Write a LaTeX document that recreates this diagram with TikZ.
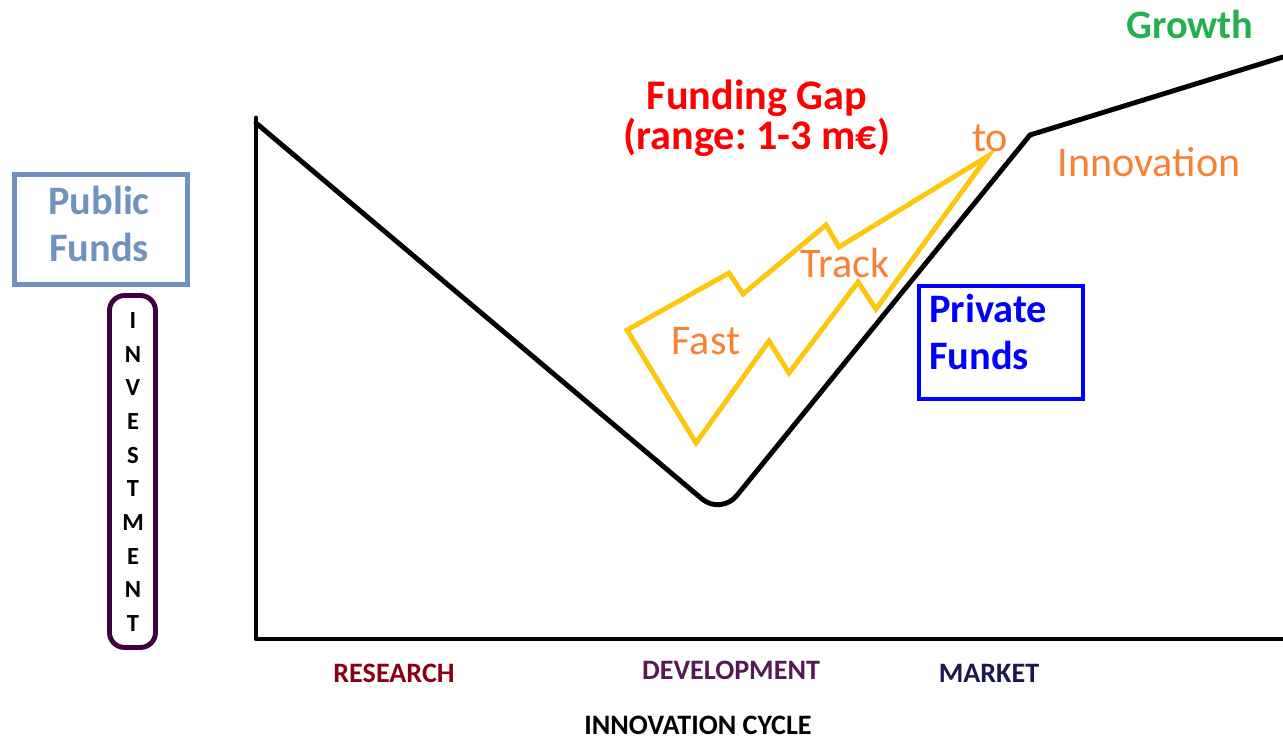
\documentclass[tikz,border=0pt]{standalone}
\usepackage{fontspec}
\setmainfont{Carlito}
\frenchspacing
\definecolor{pubblue}{RGB}{112,146,190}
\definecolor{invpurple}{RGB}{64,0,64}
\definecolor{boltgold}{RGB}{255,198,14}
\definecolor{trackorange}{RGB}{247,129,52}
\definecolor{growgreen}{RGB}{34,177,76}
\definecolor{resred}{RGB}{136,0,21}
\definecolor{devpurple}{RGB}{85,25,85}
\definecolor{marknavy}{RGB}{25,25,80}
\tikzstyle{curve}=[draw=black,line width=2.8pt,line join=round,line cap=round]
\tikzstyle{bolt}=[draw=boltgold,line width=2.8pt,line join=miter]
\tikzstyle{fundbox}=[rectangle,line width=2.8pt,inner sep=0pt]
\tikzstyle{bigtext}=[font=\bfseries\fontsize{23}{27}\selectfont]
\tikzstyle{tracktext}=[text=trackorange,font=\fontsize{24}{28}\selectfont]
\tikzstyle{stagetext}=[font=\bfseries\fontsize{16}{19}\selectfont]
\tikzstyle{letter}=[font=\bfseries\fontsize{14}{16}\selectfont,inner sep=0pt]

\begin{document}
\begin{tikzpicture}[x=0.02cm,y=-0.02cm]
    \useasboundingbox (0,0) rectangle (1283,739);
    % axes and curve
    \coordinate (top)    at (256, 118);
    \coordinate (origin) at (256, 639);
    \coordinate (xend)   at (1283,639);
    \coordinate (c1)     at (256, 123);
    \coordinate (c2)     at (721, 515);
    \coordinate (c3)     at (1030,135);
    \coordinate (c4)     at (1283, 57);
    \draw[curve] (top) -- (origin) -- (xend);
    \draw[curve,rounded corners=0.5cm] (c1) -- (c2) -- (c3);
    \draw[curve] (c3) -- (c4);
    % lightning bolt
    \coordinate (b1)  at (627,330);
    \coordinate (b2)  at (729,273);
    \coordinate (b3)  at (743,294);
    \coordinate (b4)  at (826,225);
    \coordinate (b5)  at (839,247);
    \coordinate (b6)  at (988,156);
    \coordinate (b7)  at (876,309);
    \coordinate (b8)  at (858,282);
    \coordinate (b9)  at (789,373);
    \coordinate (b10) at (769,341);
    \coordinate (b11) at (696,443);
    \draw[bolt] (b1) -- (b2) -- (b3) -- (b4) -- (b5) -- (b6) -- (b7)
                -- (b8) -- (b9) -- (b10) -- (b11) -- cycle;
    % labels on the curve
    \node (growth) at (1190, 24) [bigtext,text=growgreen]{Growth};
    \node (gap)    at (757, 118) [bigtext,text=red,align=center,
                                  font=\bfseries\fontsize{24}{23}\selectfont]
                                  {Funding Gap\\(range: 1-3 m€)};
    \node (fast)   at (706, 341) [tracktext]{Fast};
    \node (track)  at (845, 263) [tracktext]{Track};
    \node (to)     at (990, 138) [tracktext]{to};
    \node (innov)  at (1149,162) [tracktext]{Innovation};
    % fund boxes
    \node (pubbox)  at (101, 229.5) [fundbox,draw=pubblue,
                                     minimum width=3.46cm,minimum height=2.2cm]{};
    \node (pubtxt)  at (99, 224) [bigtext,text=pubblue,align=center]{Public\\Funds};
    \node (privbox) at (1001,342.5) [fundbox,draw=blue,line width=2.3pt,
                                     minimum width=3.28cm,minimum height=2.26cm]{};
    \node (privtxt) at (923, 332) [bigtext,text=blue,align=left,anchor=west]{Private\\Funds};
    % investment axis label
    \node (invbox) at (132.5,471.5) [draw=invpurple,line width=2.8pt,rounded corners=0.3cm,
                                     minimum width=0.92cm,minimum height=7.04cm]{};
    \foreach \ch [count=\i from 0] in {I,N,V,E,S,T,M,E,N,T}
      \node (inv\i) at (133, 320.5+33.67*\i) [letter]{\ch};
    % stages
    \node (research) at (394, 673) [stagetext,text=resred]{RESEARCH};
    \node (develop)  at (731, 670) [stagetext,text=devpurple]{DEVELOPMENT};
    \node (market)   at (989, 673) [stagetext,text=marknavy]{MARKET};
    \node (cycle)    at (698, 725) [stagetext]{INNOVATION CYCLE};
  \end{tikzpicture}
\end{document}
